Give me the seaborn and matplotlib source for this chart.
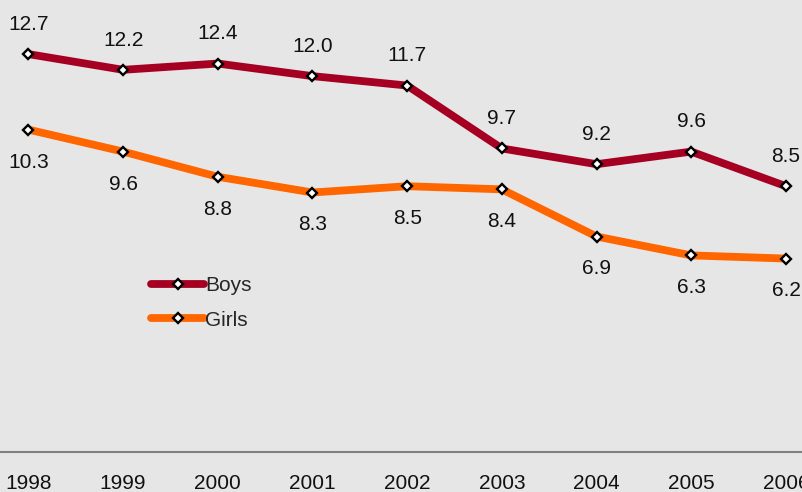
import pandas as pd
import numpy as np
import matplotlib
matplotlib.use('Agg')
import matplotlib.pyplot as plt
import seaborn as sns

years = [1998, 1999, 2000, 2001, 2002, 2003, 2004, 2005, 2006]
boys = [12.7, 12.2, 12.4, 12.0, 11.7, 9.7, 9.2, 9.6, 8.5]
girls = [10.3, 9.6, 8.8, 8.3, 8.5, 8.4, 6.9, 6.3, 6.2]
series_names = ['Boys', 'Girls']
colors = ['#a50021', '#ff6600']

df = pd.DataFrame({
    'year': years * 2,
    'value': boys + girls,
    'group': ['Boys'] * len(years) + ['Girls'] * len(years),
})

sns.set_style('white')
plt.rcParams['font.family'] = ['Liberation Sans', 'DejaVu Sans']
bg = '#e6e6e6'
txt = '#111111'

fig = plt.figure(figsize=(8.03, 4.92), dpi=100, facecolor=bg)
ax = fig.add_axes([0, 40 / 492, 1, 452 / 492])
ax.set_facecolor(bg)

sns.lineplot(data=df, x='year', y='value', hue='group', hue_order=series_names,
             palette=colors, style='group', markers=['D', 'D'], dashes=False,
             linewidth=5.6, markersize=5, markerfacecolor='white',
             markeredgecolor='black', markeredgewidth=1.7,
             legend=False, ax=ax)

# data labels: boys above, girls below
for x, v in zip(years, boys):
    ax.annotate(f'{v:.1f}', (x, v), xytext=(0, 17.5), textcoords='offset points',
                ha='center', va='baseline', fontsize=15, color=txt)
for x, v in zip(years, girls):
    ax.annotate(f'{v:.1f}', (x, v), xytext=(0, -27.3), textcoords='offset points',
                ha='center', va='baseline', fontsize=15, color=txt)

ax.set_xlim(1997.70, 2006.18)
ax.set_ylim(0.05, 14.42)
ax.set_xticks(years)
ax.set_xticklabels([str(y) for y in years], fontsize=15, color=txt)
ax.tick_params(axis='x', length=0, pad=16)
ax.set_yticks([])
ax.set_xlabel('')
ax.set_ylabel('')
for s in ['top', 'left', 'right']:
    ax.spines[s].set_visible(False)
ax.spines['bottom'].set_color('#808080')
ax.spines['bottom'].set_linewidth(1.5)

lines = ax.get_lines()[:2]
fig.legend(handles=lines, labels=series_names, loc='upper left',
           bbox_to_anchor=(151 / 803, 1 - 276 / 492), frameon=False,
           fontsize=15, handlelength=2.55, handletextpad=0.05,
           borderpad=0, borderaxespad=0, labelspacing=0.75)

fig.savefig('out.png', dpi=100, facecolor=bg)
